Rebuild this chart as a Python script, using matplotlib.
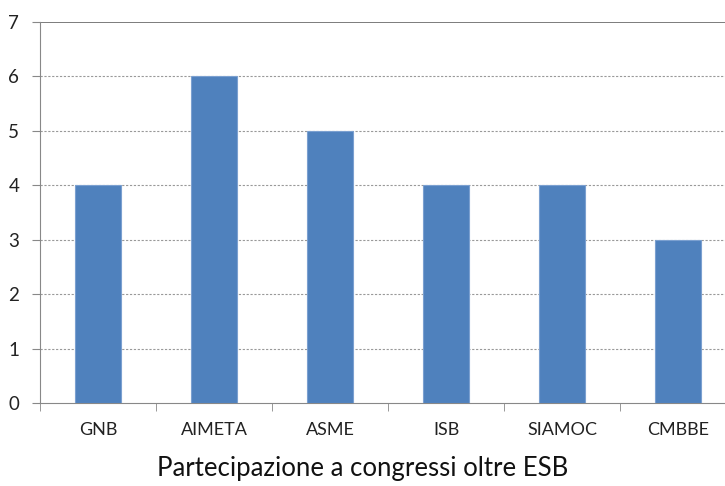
import matplotlib
matplotlib.use("Agg")
import matplotlib.pyplot as plt
import numpy as np

categories = ["GNB", "AIMETA", "ASME", "ISB", "SIAMOC", "CMBBE"]
values = [4, 6, 5, 4, 4, 3]
title = "Partecipazione a congressi oltre ESB"


def main() -> None:
    plt.rcParams["font.family"] = ["Lato", "DejaVu Sans"]
    fig = plt.figure(figsize=(7.25, 4.86), dpi=100)
    ax = fig.add_axes([0.0552, 0.1708, 0.96, 0.784])

    x = np.arange(len(categories))
    ax.bar(x, values, width=0.4, color="#4F81BD", edgecolor="#7BA0D0", linewidth=0.8, zorder=3)

    ax.set_xlim(-0.5, len(categories) - 0.5)
    ax.set_ylim(0, 7)
    ax.set_yticks(range(8))
    ax.tick_params(axis="y", labelsize=13.5, length=6, color="#888888", pad=9, colors="#222222")
    ax.set_xticks(x)
    ax.set_xticklabels(categories)
    ax.tick_params(axis="x", which="major", length=0, labelsize=13, pad=14, colors="#222222")
    ax.set_xticks(np.arange(-0.5, len(categories)), minor=True)
    ax.tick_params(axis="x", which="minor", length=6, color="#888888")

    for y in range(1, 7):
        ax.axhline(y, color="#999999", linestyle=(0, (2, 1.5)), linewidth=0.8, zorder=1)
    ax.axhline(7, color="#666666", linewidth=1.2, zorder=1)

    for side in ["top", "right"]:
        ax.spines[side].set_visible(False)
    ax.spines["left"].set_color("#888888")
    ax.spines["bottom"].set_color("#888888")

    fig.text(0.5, 0.036, title, ha="center", va="center", fontsize=18.5, color="#111111")

    fig.savefig("out.png", dpi=100)


if __name__ == "__main__":
    main()
